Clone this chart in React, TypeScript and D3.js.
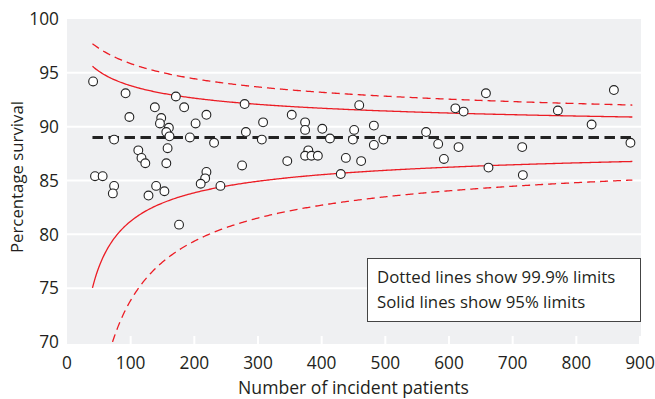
import { useEffect, useRef } from "react";
import * as d3 from "d3";

// hospitals: number of incident patients and percentage survival
const patients = [
  41, 92, 171, 184, 98, 138, 148, 146, 160, 156, 161, 202, 74, 193, 158, 112, 117, 123, 156, 44, 56, 74, 72, 140, 153, 128, 176,
  219, 279, 231, 308, 353, 281, 306, 374, 374, 379, 374, 384, 346, 275, 219, 217, 210, 241,
  394, 401, 413, 459, 451, 449, 482, 482, 497, 438, 462, 430, 564,
  583, 615, 592, 658, 610, 623, 715, 662, 716,
  771, 859, 824, 885,
];
const survival = [
  94.2, 93.1, 92.8, 91.8, 90.9, 91.8, 90.8, 90.3, 89.9, 89.5, 89.1, 90.3, 88.8, 89.0, 88.0, 87.8, 87.1, 86.6, 86.6, 85.4, 85.4, 84.5, 83.8, 84.5, 84.0, 83.6, 80.9,
  91.1, 92.1, 88.5, 90.4, 91.1, 89.5, 88.8, 90.4, 89.7, 87.8, 87.3, 87.3, 86.8, 86.4, 85.8, 85.2, 84.7, 84.5,
  87.3, 89.8, 88.9, 92.0, 89.7, 88.8, 90.1, 88.3, 88.8, 87.1, 86.8, 85.6, 89.5,
  88.4, 88.1, 87.0, 93.1, 91.7, 91.4, 88.1, 86.2, 85.5,
  91.5, 93.4, 90.2, 88.5,
];

const target = 0.89; // overall survival (dashed black line)
const limitZ = [
  { z: 1.96, dashed: false }, // 95%
  { z: 3.29, dashed: true }, // 99.9%
];
const xTicks = [0, 100, 200, 300, 400, 500, 600, 700, 800, 900];
const yTicks = [70, 75, 80, 85, 90, 95, 100];
const legendLines = ["Dotted lines show 99.9% limits", "Solid lines show 95% limits"];

const W = 655,
  H = 399;
const FONT = "'Open Sans', sans-serif";

const App = () => {
  const ref = useRef<HTMLDivElement>(null);

  useEffect(() => {
    document.body.style.margin = "0";
    const root = d3.select(ref.current);
    root.selectAll("*").remove();

    const svg = root
      .append("svg")
      .attr("width", W)
      .attr("height", H)
      .style("display", "block");

    const x = d3.scaleLinear().domain([0, 900]).range([67, 640]);
    const y = d3.scaleLinear().domain([70, 100]).range([342, 19]);
    const panelBottom = 344;

    // grey panel
    svg
      .append("rect")
      .attr("x", x(0))
      .attr("y", y(100))
      .attr("width", x(900) - x(0) + 1)
      .attr("height", panelBottom - y(100))
      .attr("fill", "#eff0f2");

    svg
      .append("defs")
      .append("clipPath")
      .attr("id", "panel-clip")
      .append("rect")
      .attr("x", x(0))
      .attr("y", y(100))
      .attr("width", x(900) - x(0))
      .attr("height", y(70) - y(100));

    // white grid lines
    svg
      .append("g")
      .selectAll("line")
      .data(yTicks.filter((t) => t > 70 && t < 100))
      .enter()
      .append("line")
      .attr("x1", x(0))
      .attr("x2", x(900) + 1)
      .attr("y1", (d) => y(d))
      .attr("y2", (d) => y(d))
      .attr("stroke", "#fff")
      .attr("stroke-width", 2);

    svg
      .append("g")
      .selectAll("line")
      .data(xTicks.filter((t) => t > 0))
      .enter()
      .append("line")
      .attr("x1", (d) => x(d))
      .attr("x2", (d) => x(d))
      .attr("y1", panelBottom - 8)
      .attr("y2", panelBottom)
      .attr("stroke", "#fff")
      .attr("stroke-width", 2);

    // funnel limits on the logit scale
    const logit = (p: number) => Math.log(p / (1 - p));
    const expit = (v: number) => 1 / (1 + Math.exp(-v));
    const ns = d3.range(40, 889, 2);
    const line = d3
      .line<number[]>()
      .x((d) => x(d[0]))
      .y((d) => y(d[1]));

    const limits = svg.append("g").attr("clip-path", "url(#panel-clip)");
    limitZ.forEach(({ z, dashed }) => {
      [1, -1].forEach((sign) => {
        const pts = ns.map((n) => {
          const se = 1 / Math.sqrt(n * target * (1 - target));
          return [n, 100 * expit(logit(target) + sign * z * se)];
        });
        limits
          .append("path")
          .attr("d", line(pts) as string)
          .attr("fill", "none")
          .attr("stroke", "#ec1c24")
          .attr("stroke-width", 1.3)
          .attr("stroke-dasharray", dashed ? "8,5" : null);
      });
    });

    // target line
    svg
      .append("line")
      .attr("x1", x(40))
      .attr("x2", x(888))
      .attr("y1", y(target * 100))
      .attr("y2", y(target * 100))
      .attr("stroke", "#222")
      .attr("stroke-width", 3)
      .attr("stroke-dasharray", "10.5,5.5");

    // hospitals
    svg
      .append("g")
      .selectAll("circle")
      .data(patients.map((n, i) => [n, survival[i]]))
      .enter()
      .append("circle")
      .attr("cx", (d) => x(d[0]))
      .attr("cy", (d) => y(d[1]))
      .attr("r", 4.4)
      .attr("fill", "#fff")
      .attr("stroke", "#222")
      .attr("stroke-width", 1.1);

    // axes labels
    svg
      .append("g")
      .selectAll("text")
      .data(yTicks)
      .enter()
      .append("text")
      .attr("x", 59)
      .attr("y", (d) => y(d))
      .attr("dy", "0.36em")
      .attr("text-anchor", "end")
      .attr("fill", "#231f20")
      .style("font-family", FONT)
      .style("font-size", "17.3px")
      .text((d) => d);

    svg
      .append("g")
      .selectAll("text")
      .data(xTicks)
      .enter()
      .append("text")
      .attr("x", (d) => x(d))
      .attr("y", 369)
      .attr("text-anchor", "middle")
      .attr("fill", "#231f20")
      .style("font-family", FONT)
      .style("font-size", "17.3px")
      .text((d) => d);

    svg
      .append("text")
      .attr("x", (x(0) + x(900)) / 2)
      .attr("y", 394)
      .attr("text-anchor", "middle")
      .attr("fill", "#231f20")
      .style("font-family", FONT)
      .style("font-size", "17.6px")
      .text("Number of incident patients");

    svg
      .append("text")
      .attr("transform", "translate(23,177) rotate(-90)")
      .attr("text-anchor", "middle")
      .attr("fill", "#231f20")
      .style("font-family", FONT)
      .style("font-size", "16.8px")
      .text("Percentage survival");

    // legend
    const legend = svg.append("g");
    legend
      .append("rect")
      .attr("x", 367.5)
      .attr("y", 258.5)
      .attr("width", 273)
      .attr("height", 63)
      .attr("fill", "#fff")
      .attr("stroke", "#444")
      .attr("stroke-width", 1);
    legend
      .selectAll("text")
      .data(legendLines)
      .enter()
      .append("text")
      .attr("x", 377)
      .attr("y", (_, i) => 283 + i * 25)
      .attr("fill", "#231f20")
      .style("font-family", FONT)
      .style("font-size", "16.8px")
      .text((d) => d);
  }, []);

  return <div ref={ref} />;
};

export default App;
